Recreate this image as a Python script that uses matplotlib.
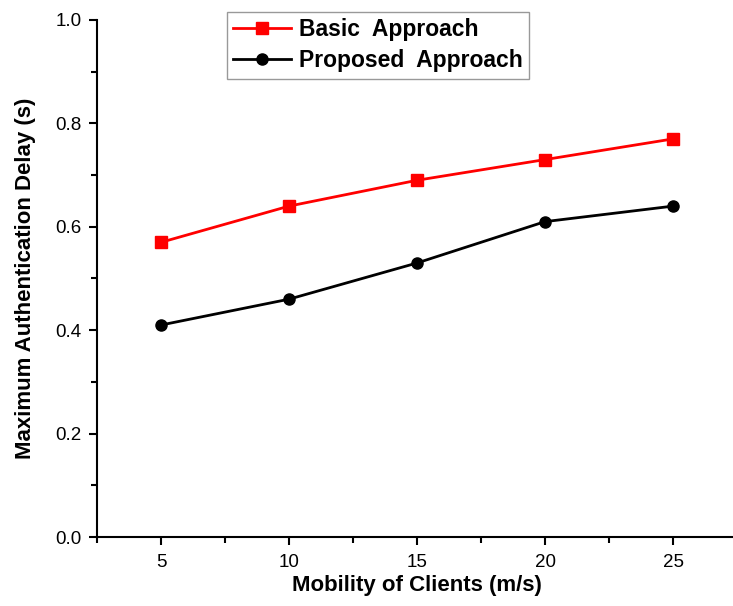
import matplotlib
matplotlib.use("Agg")
import matplotlib.pyplot as plt
from matplotlib.ticker import MultipleLocator, FormatStrFormatter

plt.rcParams["font.family"] = ["Liberation Sans", "DejaVu Sans"]

mobility = [5, 10, 15, 20, 25]
basic_delay = [0.57, 0.64, 0.69, 0.73, 0.77]
proposed_delay = [0.41, 0.46, 0.53, 0.61, 0.64]

fig = plt.figure(figsize=(7.33, 6.06), dpi=100)
# axes run past the right edge of the canvas, so the 27.5 end is cut off
ax = fig.add_axes([97 / 733, 69 / 606, 640 / 733, 517 / 606])

ax.plot(mobility, basic_delay, color="#ff0000", lw=2, marker="s", ms=8,
        label="Basic  Approach")
ax.plot(mobility, proposed_delay, color="black", lw=2, marker="o", ms=8,
        label="Proposed  Approach")

ax.set_xlim(2.5, 27.5)
ax.set_ylim(0.0, 1.0)
ax.xaxis.set_major_locator(MultipleLocator(5))
ax.xaxis.set_minor_locator(MultipleLocator(2.5))
ax.yaxis.set_major_locator(MultipleLocator(0.2))
ax.yaxis.set_minor_locator(MultipleLocator(0.1))
ax.yaxis.set_major_formatter(FormatStrFormatter("%.1f"))

for side in ("top", "right"):
    ax.spines[side].set_visible(False)
for side in ("left", "bottom"):
    ax.spines[side].set_linewidth(1.5)
ax.tick_params(which="major", direction="out", length=6, width=1.5, labelsize=13.5)
ax.tick_params(which="minor", direction="out", length=4, width=1.5)
ax.tick_params(axis="x", pad=6)
ax.tick_params(axis="y", pad=5)

ax.set_xlabel("Mobility of Clients (m/s)", fontsize=16, fontweight="bold", labelpad=3)
ax.set_ylabel("Maximum Authentication Delay (s)", fontsize=16, fontweight="bold", labelpad=14)

leg = ax.legend(loc="upper left", bbox_to_anchor=(130 / 640, 1.016),
                prop={"weight": "bold", "size": 16.5}, frameon=True, fancybox=False,
                handlelength=2.5, borderpad=0.28, labelspacing=0.35, handletextpad=0.35,
                borderaxespad=0.0)
leg.get_frame().set_edgecolor("#808080")
leg.get_frame().set_linewidth(1.0)

fig.savefig("out.png", dpi=100)
